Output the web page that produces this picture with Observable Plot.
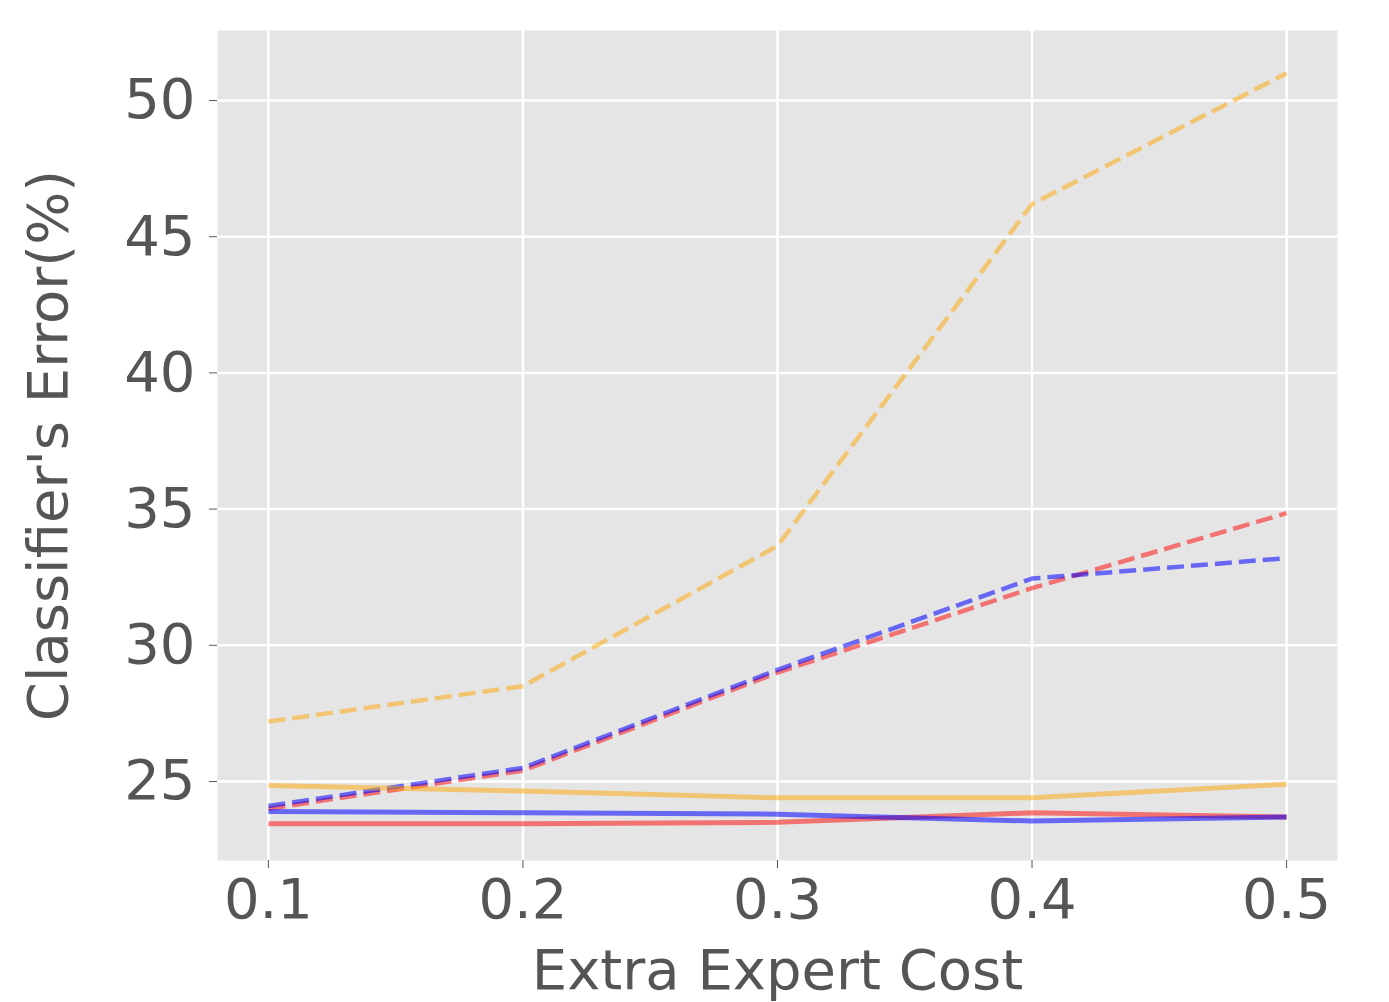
<!DOCTYPE html>
<html>
<head>
<meta charset="utf-8">
<script src="https://cdn.jsdelivr.net/npm/d3@7"></script>
<script src="https://cdn.jsdelivr.net/npm/@observablehq/plot@0.6"></script>
<style>
  html, body { margin: 0; padding: 0; background: #ffffff; }
  #chart svg { display: block; }
</style>
</head>
<body>
<div id="chart"></div>
<script>
const costs = [0.1, 0.2, 0.3, 0.4, 0.5];
const xTicks = [0.1, 0.2, 0.3, 0.4, 0.5];
const yTicks = [25, 30, 35, 40, 45, 50];

const orangeDashed = [27.2, 28.5, 33.65, 46.2, 51.0];
const redDashed    = [24.0, 25.4, 29.0, 32.1, 34.85];
const blueDashed   = [24.1, 25.5, 29.1, 32.45, 33.2];
const orangeSolid  = [24.85, 24.65, 24.4, 24.4, 24.9];
const redSolid     = [23.45, 23.45, 23.5, 23.85, 23.7];
const blueSolid    = [23.9, 23.85, 23.8, 23.55, 23.7];

const seriesList = [
  {name: "orangeDashed", values: orangeDashed, color: "#FFA500", opacity: 0.5, dash: "17,7", width: 4.5},
  {name: "redDashed", values: redDashed, color: "#FF0000", opacity: 0.5, dash: "17,7", width: 4.5},
  {name: "blueDashed", values: blueDashed, color: "#0000FF", opacity: 0.55, dash: "17,7", width: 4.5},
  {name: "orangeSolid", values: orangeSolid, color: "#FFA500", opacity: 0.5, dash: null, width: 5},
  {name: "redSolid", values: redSolid, color: "#FF0000", opacity: 0.5, dash: null, width: 5},
  {name: "blueSolid", values: blueSolid, color: "#0000FF", opacity: 0.55, dash: null, width: 5}
];

const lineMarks = seriesList.map(s => Plot.line(
  costs.map((c, i) => ({x: c, y: s.values[i]})),
  {x: "x", y: "y", stroke: s.color, strokeOpacity: s.opacity, strokeWidth: s.width,
   strokeDasharray: s.dash ?? undefined, strokeLinecap: "butt"}
));

const chart = Plot.plot({
  width: 1389,
  height: 1002,
  marginLeft: 217,
  marginRight: 52,
  marginTop: 30,
  marginBottom: 142,
  style: {fontFamily: "DejaVu Sans", background: "#ffffff", color: "#555555"},
  x: {domain: [0.08, 0.52]},
  y: {domain: [22.1, 52.57]},
  marks: [
    Plot.frame({fill: "#E5E5E5", stroke: null}),
    Plot.gridX(xTicks, {stroke: "#ffffff", strokeOpacity: 1, strokeWidth: 2.5}),
    Plot.gridY(yTicks, {stroke: "#ffffff", strokeOpacity: 1, strokeWidth: 2.5}),
    ...lineMarks,
    Plot.axisX(xTicks, {
      tickFormat: d => d.toFixed(1), fontSize: 56, tickSize: 8, tickPadding: 10,
      stroke: "#555555", color: "#555555",
      label: "Extra Expert Cost", labelAnchor: "center", labelOffset: 128, labelArrow: "none"
    }),
    Plot.axisY(yTicks, {
      tickFormat: d => String(d), fontSize: 56, tickSize: 8, tickPadding: 14,
      stroke: "#555555", color: "#555555",
      label: "Classifier's Error(%)", labelAnchor: "center", labelOffset: 190, labelArrow: "none"
    })
  ]
});
document.getElementById("chart").appendChild(chart);
</script>
</body>
</html>
